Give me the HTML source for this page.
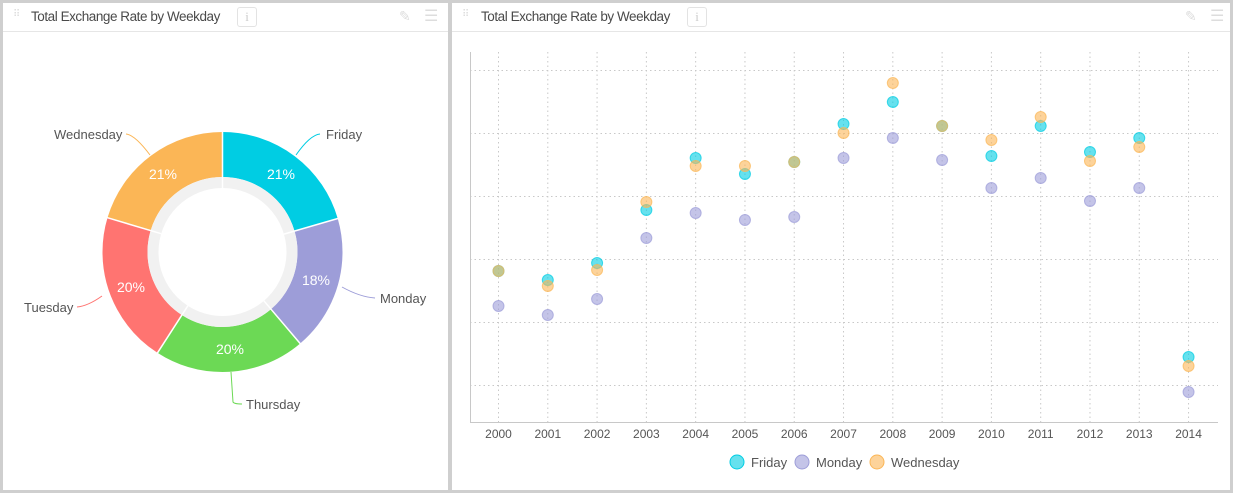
<!DOCTYPE html>
<html><head><meta charset="utf-8"><style>
body{margin:0;width:1233px;height:493px;background:#cfcfcf;font-family:"Liberation Sans",sans-serif;overflow:hidden;position:relative}
.p{position:absolute;background:#fff;top:3px;height:487px}
.h{position:absolute;left:0;right:0;top:0;height:28px;border-bottom:1px solid #e6e6e6}
.t{position:absolute;top:6px;font-size:13.5px;color:#4a4a4a;letter-spacing:-0.45px}
.i{position:absolute;top:4px;width:18px;height:18px;border:1px solid #e3e3e3;border-radius:3px;color:#ccc;font-size:13px;text-align:center;line-height:18px;font-family:"Liberation Serif",serif}
svg text{font-family:"Liberation Sans",sans-serif}
</style></head><body>
<div class="p" style="left:3px;width:445px">
<div class="h"><span style="position:absolute;left:10px;top:6px;color:#ddd;font-size:10px">⠿</span><span class="t" style="left:28px">Total Exchange Rate by Weekday</span><span class="i" style="left:234px">i</span>
<span style="position:absolute;left:396px;top:5px;color:#ddd;font-size:14px">✎</span><span style="position:absolute;left:421px;top:3px;color:#ddd;font-size:16px">☰</span></div>
</div>
<div class="p" style="left:452px;width:778px">
<div class="h"><span style="position:absolute;left:10px;top:6px;color:#ddd;font-size:10px">⠿</span><span class="t" style="left:29px">Total Exchange Rate by Weekday</span><span class="i" style="left:235px">i</span>
<span style="position:absolute;left:733px;top:5px;color:#ddd;font-size:14px">✎</span><span style="position:absolute;left:758px;top:3px;color:#ddd;font-size:16px">☰</span></div>
</div>
<svg width="1233" height="493" style="position:absolute;left:0;top:0">
<g transform="translate(222.5,252) rotate(-90)" fill="none" stroke-width="45">
<circle r="97.5" stroke="#00cde3" stroke-dasharray="125.6 1000" stroke-dashoffset="0"/>
<circle r="97.5" stroke="#9d9dd8" stroke-dasharray="112.1 1000" stroke-dashoffset="-125.6"/>
<circle r="97.5" stroke="#6cd955" stroke-dasharray="124.4 1000" stroke-dashoffset="-237.7"/>
<circle r="97.5" stroke="#ff7471" stroke-dasharray="125.6 1000" stroke-dashoffset="-362.1"/>
<circle r="97.5" stroke="#fbb656" stroke-dasharray="124.9 1000" stroke-dashoffset="-487.7"/>
<circle r="69.5" stroke="#f1f1f1" stroke-width="11"/>
</g>
<g stroke="#fff" stroke-width="1.5" transform="translate(222.5,252)">
<line x1="0" y1="-64" x2="0" y2="-121" transform="rotate(0)"/>
<line x1="0" y1="-64" x2="0" y2="-121" transform="rotate(73.8)"/>
<line x1="0" y1="-64" x2="0" y2="-121" transform="rotate(139.7)"/>
<line x1="0" y1="-64" x2="0" y2="-121" transform="rotate(212.8)"/>
<line x1="0" y1="-64" x2="0" y2="-121" transform="rotate(286.6)"/>
</g>
<g fill="#fff" font-size="14" text-anchor="middle">
<text x="281" y="179">21%</text><text x="316" y="285">18%</text><text x="230" y="354">20%</text><text x="131" y="292">20%</text><text x="163" y="179">21%</text>
</g>
<g fill="none" stroke-width="1">
<path d="M296 155 Q310 135 320 134" stroke="#00cde3"/>
<path d="M342 287 Q360 297 375 298" stroke="#9d9dd8"/>
<path d="M231 372 L233 402 Q234 404 242 404" stroke="#6cd955"/>
<path d="M102 296 Q88 306 77 307" stroke="#ff7471"/>
<path d="M150 155 Q135 135 126 134" stroke="#fbb656"/>
</g>
<g fill="#555" font-size="13">
<text x="326" y="139">Friday</text><text x="380" y="303">Monday</text><text x="246" y="409">Thursday</text><text x="24" y="312">Tuesday</text><text x="54" y="139">Wednesday</text>
</g>
<g stroke="#c8c8c8" stroke-dasharray="1.5 3" stroke-width="1">
<line x1="470" x2="1218" y1="70.5" y2="70.5"/><line x1="470" x2="1218" y1="133.5" y2="133.5"/><line x1="470" x2="1218" y1="196.5" y2="196.5"/><line x1="470" x2="1218" y1="259.5" y2="259.5"/><line x1="470" x2="1218" y1="322.5" y2="322.5"/><line x1="470" x2="1218" y1="385.5" y2="385.5"/>
</g>
<g id="vg" stroke="#c8c8c8" stroke-dasharray="1.5 3" stroke-width="1"></g>
<line x1="470.5" y1="52" x2="470.5" y2="422" stroke="#c8c8c8"/>
<line x1="470" y1="422.5" x2="1218" y2="422.5" stroke="#c8c8c8"/>
<g id="xl" fill="#555" font-size="12" text-anchor="middle"></g>
<g id="pts" stroke-width="1"></g>
<g font-size="13" fill="#555">
<circle cx="737" cy="462" r="7" fill="#00cde3" fill-opacity="0.6" stroke="#00cde3"/><text x="751" y="467">Friday</text>
<circle cx="802" cy="462" r="7" fill="#9d9dd8" fill-opacity="0.6" stroke="#9d9dd8"/><text x="816" y="467">Monday</text>
<circle cx="877" cy="462" r="7" fill="#fbb656" fill-opacity="0.6" stroke="#fbb656"/><text x="891" y="467">Wednesday</text>
</g>
</svg>
<script>
var ns="http://www.w3.org/2000/svg";
function el(t,a,p){var e=document.createElementNS(ns,t);for(var k in a)e.setAttribute(k,a[k]);document.getElementById(p).appendChild(e);return e;}
var mon=[306,315,299,238,213,220,217,158,138,160,188,178,201,188,392];
var wed=[271,286,270,202,166,166,162,133,83,126,140,117,161,147,366];
var fri=[271,280,263,210,158,174,162,124,102,126,156,126,152,138,357];
for(var i=0;i<15;i++){var x=498.5+i*49.29;
el("line",{x1:x,x2:x,y1:52,y2:422},"vg");
el("text",{x:x,y:438},"xl").textContent=2000+i;
el("circle",{cx:x,cy:mon[i],r:5.5,fill:"#9d9dd8","fill-opacity":0.6,stroke:"#9d9dd8","stroke-opacity":0.7},"pts");
el("circle",{cx:x,cy:fri[i],r:5.5,fill:"#00cde3","fill-opacity":0.6,stroke:"#00cde3","stroke-opacity":0.7},"pts");
el("circle",{cx:x,cy:wed[i],r:5.5,fill:"#fbb656","fill-opacity":0.6,stroke:"#fbb656","stroke-opacity":0.7},"pts");}
</script>
</body></html>
